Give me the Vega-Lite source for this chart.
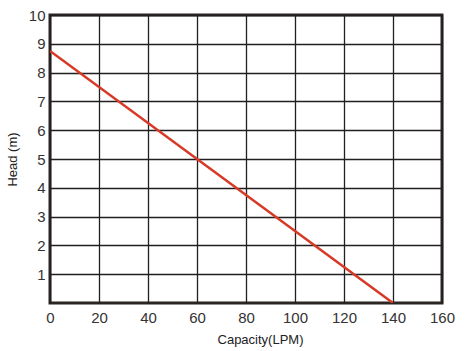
{
  "$schema": "https://vega.github.io/schema/vega-lite/v6.json",
  "autosize": "none",
  "width": 392,
  "height": 288,
  "padding": {"left": 50, "top": 15, "right": 23, "bottom": 48},
  "background": "white",
  "config": {
    "view": {"stroke": "#2b2624", "strokeWidth": 3},
    "axis": {
      "labelFont": "Liberation Sans",
      "titleFont": "Liberation Sans",
      "labelFontSize": 15,
      "labelColor": "#333333",
      "titleColor": "#222222",
      "titleFontSize": 13,
      "titleFontWeight": "normal",
      "labelFlush": false,
      "domain": false,
      "ticks": false,
      "gridColor": "#231f20",
      "gridOpacity": 1,
      "gridWidth": 1.3
    }
  },
  "data": {"values": [
    {"capacity": 0, "head": 8.75},
    {"capacity": 140, "head": 0}
  ]},
  "mark": {"type": "line", "color": "#d63a26", "strokeWidth": 2.5, "clip": true},
  "encoding": {
    "x": {
      "field": "capacity", "type": "quantitative",
      "scale": {"domain": [0, 160], "nice": false},
      "axis": {"values": [0, 20, 40, 60, 80, 100, 120, 140, 160], "labelPadding": 7, "title": "Capacity(LPM)", "titlePadding": 8, "titleX": 210, "titleAlign": "center"}
    },
    "y": {
      "field": "head", "type": "quantitative",
      "scale": {"domain": [0, 10], "nice": false},
      "axis": {"values": [1, 2, 3, 4, 5, 6, 7, 8, 9, 10], "labelPadding": 5, "title": "Head (m)", "titlePadding": 9}
    }
  }
}
